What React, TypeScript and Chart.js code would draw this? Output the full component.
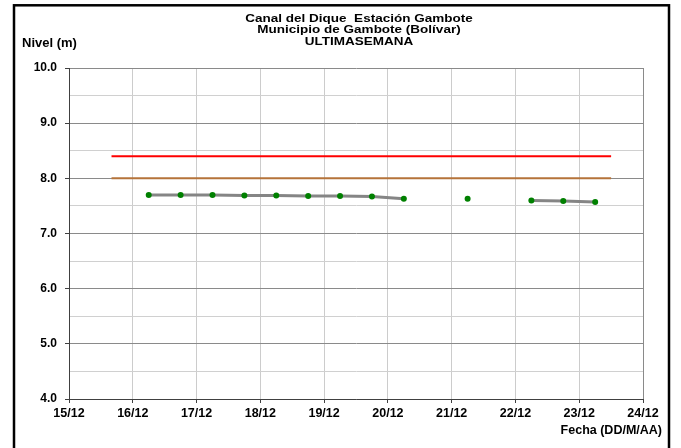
import React, { useEffect, useRef } from "react";
import { Chart, registerables } from "chart.js";

Chart.register(...registerables);

// ---- Data ----
const xTickLabels = ["15/12", "16/12", "17/12", "18/12", "19/12", "20/12", "21/12", "22/12", "23/12", "24/12"];

const levelDates = [
  "16/12 06:00", "16/12 18:00", "17/12 06:00", "17/12 18:00", "18/12 06:00",
  "18/12 18:00", "19/12 06:00", "19/12 18:00", "20/12 06:00", "20/12 18:00",
  "21/12 06:00", "21/12 18:00", "22/12 06:00", "22/12 18:00", "23/12 06:00",
];
const levelValues: (number | null)[] = [
  7.70, 7.70, 7.70, 7.69, 7.69,
  7.68, 7.68, 7.67, 7.63, null,
  7.63, null, 7.60, 7.59, 7.57,
];

const thresholdDates = ["15/12 16:00", "23/12 12:00"];
const alertaRoja = 8.4;
const alertaNaranja = 8.0;

const titleLines = ["Canal del Dique  Estación Gambote", "Municipio de Gambote (Bolívar)", "ULTIMASEMANA"];
const yAxisTitle = "Nivel (m)";
const xAxisTitle = "Fecha (DD/M/AA)";

// day offset from 15/12 00:00
const toDay = (s: string) => {
  const [d, t] = s.split(" ");
  const dd = parseInt(d.split("/")[0], 10);
  const [hh, mm] = t.split(":").map((v) => parseInt(v, 10));
  return dd - 15 + (hh + mm / 60) / 24;
};

const FONT = 'Arial, "Liberation Sans", sans-serif';

export default function App() {
  const ref = useRef<HTMLCanvasElement | null>(null);

  useEffect(() => {
    if (!ref.current) return;
    const levelData = levelDates.map((d, i) => ({ x: toDay(d), y: levelValues[i] }));
    const redData = thresholdDates.map((d) => ({ x: toDay(d), y: alertaRoja }));
    const brownData = thresholdDates.map((d) => ({ x: toDay(d), y: alertaNaranja }));

    const decor = {
      id: "decor",
      beforeDraw(chart: any) {
        const c = chart.ctx;
        c.save();
        c.fillStyle = "#ffffff";
        c.fillRect(0, 0, chart.width, chart.height);
        c.restore();
      },
      afterDraw(chart: any) {
        const c = chart.ctx;
        c.save();
        c.strokeStyle = "#000000";
        c.lineWidth = 2.5;
        c.strokeRect(14, 5.3, 655, 500);
        c.fillStyle = "#000000";
        c.font = `bold 12.5px ${FONT}`;
        c.textAlign = "center";
        c.textBaseline = "middle";
        const cx = 359;
        titleLines.forEach((t, i) => {
          c.save();
          c.translate(cx, 18.5 + i * 11.8);
          c.scale(1.08, 0.9);
          c.fillText(t, 0, 0);
          c.restore();
        });
        c.textAlign = "left";
        c.font = `bold 13px ${FONT}`;
        c.fillText(yAxisTitle, 22, 43);
        c.textAlign = "right";
        c.font = `bold 12.5px ${FONT}`;
        c.fillText(xAxisTitle, 662, 431);
        c.restore();
      },
    };

    const chart = new Chart(ref.current, {
      type: "line",
      data: {
        datasets: [
          {
            label: "Alerta roja",
            data: redData as any,
            borderColor: "#ff0000",
            borderWidth: 2,
            pointRadius: 0,
            fill: false,
          },
          {
            label: "Alerta naranja",
            data: brownData as any,
            borderColor: "#b5733a",
            borderWidth: 2,
            pointRadius: 0,
            fill: false,
          },
          {
            label: "Nivel",
            data: levelData as any,
            borderColor: "#858585",
            borderWidth: 3,
            pointRadius: 3,
            pointBackgroundColor: "#008000",
            pointBorderColor: "#008000",
            pointBorderWidth: 0,
            spanGaps: false,
            fill: false,
          },
        ],
      },
      options: {
        animation: false,
        responsive: false,
        maintainAspectRatio: false,
        layout: { padding: { top: 68, left: 0, right: 38, bottom: 0 } },
        plugins: {
          legend: { display: false },
          tooltip: { enabled: false },
          title: { display: false },
        },
        scales: {
          x: {
            type: "linear",
            min: 0,
            max: 9,
            afterFit: (s: any) => {
              s.height = 49;
            },
            ticks: {
              stepSize: 1,
              autoSkip: false,
              maxRotation: 0,
              padding: 3,
              color: "#000000",
              font: { family: FONT, size: 12.5, weight: "bold" },
              callback: (v: any) => xTickLabels[Math.round(Number(v))] ?? "",
            },
            grid: {
              color: (ctx: any) => (ctx.index === 9 ? "#8a8a8a" : "#cccccc"),
              tickColor: "#404040",
              tickLength: 4,
              lineWidth: 1,
            },
            border: { color: "#404040", width: 1 },
          },
          y: {
            type: "linear",
            min: 4,
            max: 10,
            afterFit: (s: any) => {
              s.width = 69;
            },
            ticks: {
              stepSize: 0.5,
              autoSkip: false,
              padding: 8,
              color: "#000000",
              font: { family: FONT, size: 12, weight: "bold" },
              callback: (v: any) => (Math.abs(Number(v) % 1) < 1e-6 ? Number(v).toFixed(1) : ""),
            },
            grid: {
              color: (ctx: any) => {
                const v = ctx.tick ? ctx.tick.value : 0;
                return Math.abs(v % 1) < 1e-6 ? "#8a8a8a" : "#d0d0d0";
              },
              tickColor: (ctx: any) => {
                const v = ctx.tick ? ctx.tick.value : 0;
                return Math.abs(v % 1) < 1e-6 ? "#404040" : "rgba(0,0,0,0)";
              },
              tickLength: 4,
              lineWidth: 1,
            },
            border: { color: "#404040", width: 1 },
          },
        },
      },
      plugins: [decor],
    } as any);

    return () => chart.destroy();
  }, []);

  return (
    <div style={{ position: "fixed", left: 0, top: 0, width: 681, height: 448, background: "#fff" }}>
      <canvas ref={ref} width={681} height={448} style={{ width: 681, height: 448, display: "block" }} />
    </div>
  );
}
